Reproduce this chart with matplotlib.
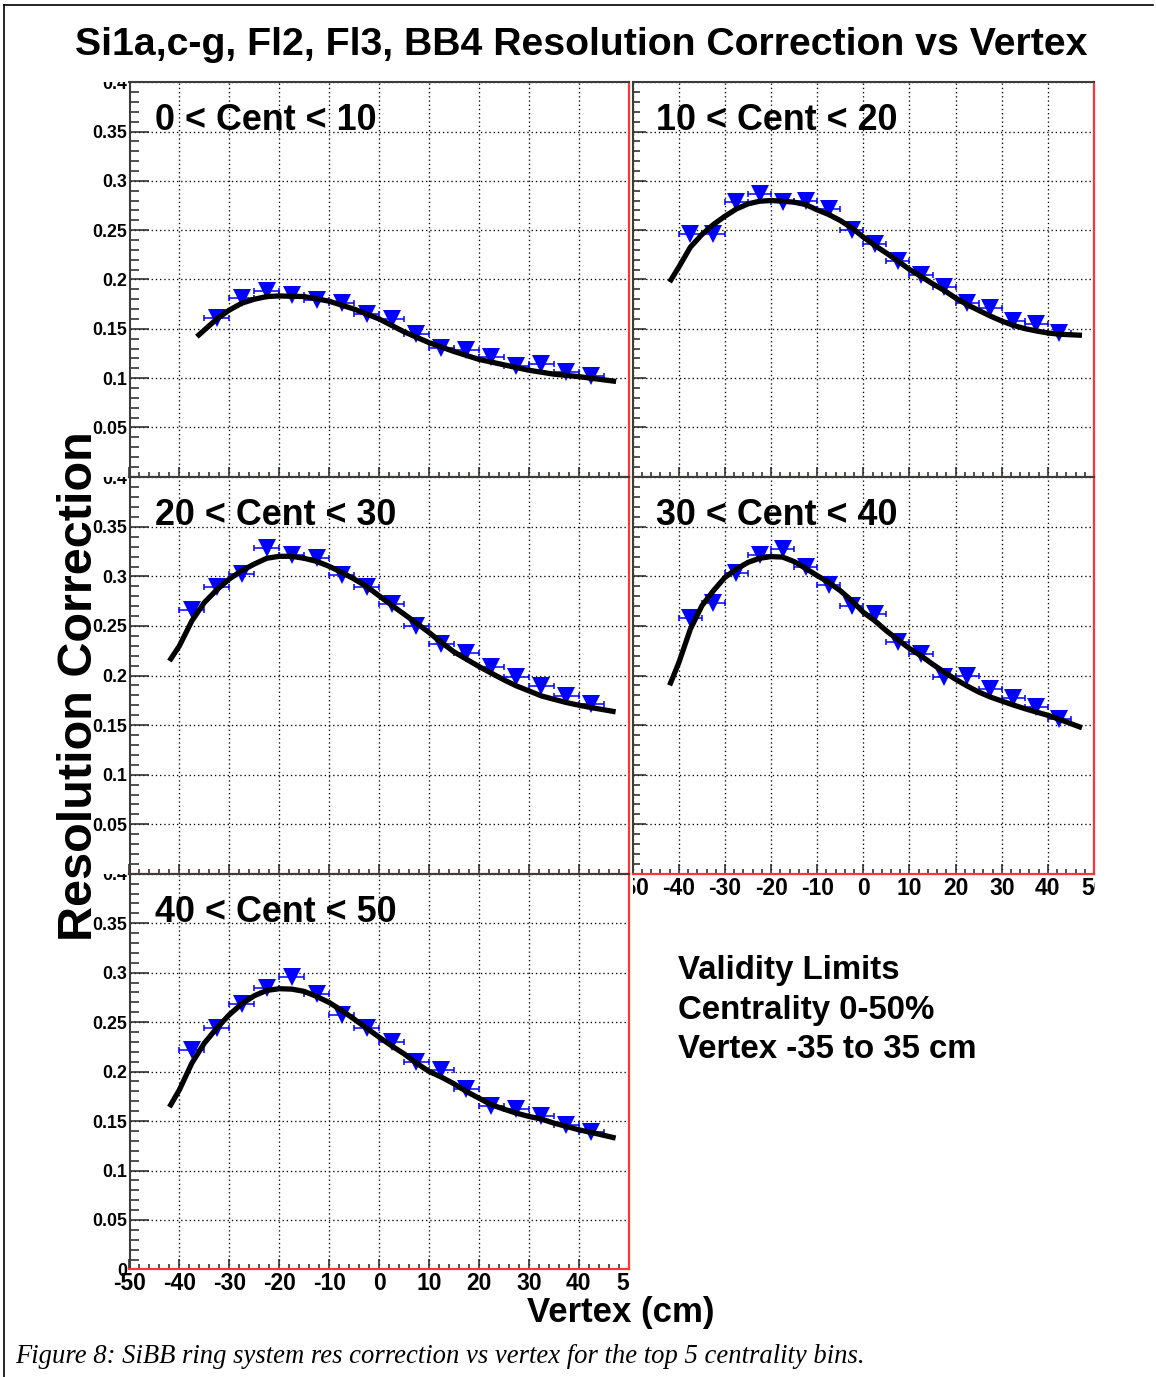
import matplotlib
matplotlib.use("Agg")
import matplotlib.pyplot as plt
from matplotlib.transforms import Bbox, TransformedBbox
from matplotlib.lines import Line2D
from matplotlib.ticker import FixedLocator, MultipleLocator

plt.rcParams['font.family'] = ['Liberation Sans', 'DejaVu Sans']
plt.rcParams['font.weight'] = 'bold'

# ---------------- data ----------------
title = "Si1a,c-g, Fl2, Fl3, BB4 Resolution Correction vs Vertex"
cent_labels = ["0 < Cent < 10", "10 < Cent < 20", "20 < Cent < 30",
               "30 < Cent < 40", "40 < Cent < 50"]

vertex_c0 = [-32.5, -27.5, -22.5, -17.5, -12.5, -7.5, -2.5, 2.5, 7.5,
             12.5, 17.5, 22.5, 27.5, 32.5, 37.5, 42.5]
vertex_bins = [-37.5, -32.5, -27.5, -22.5, -17.5, -12.5, -7.5, -2.5, 2.5,
               7.5, 12.5, 17.5, 22.5, 27.5, 32.5, 37.5, 42.5]
vertex_halfwidth = 2.5

corr_c0 = [0.161, 0.181, 0.188, 0.184, 0.179, 0.176, 0.165, 0.160, 0.145,
           0.131, 0.129, 0.121, 0.112, 0.114, 0.106, 0.102]
corr_c1 = [0.246, 0.246, 0.279, 0.287, 0.279, 0.280, 0.272, 0.250, 0.236,
           0.219, 0.205, 0.192, 0.176, 0.171, 0.158, 0.155, 0.146]
corr_c2 = [0.266, 0.289, 0.302, 0.329, 0.322, 0.319, 0.301, 0.289, 0.272,
           0.250, 0.232, 0.223, 0.209, 0.199, 0.189, 0.179, 0.171]
corr_c3 = [0.258, 0.273, 0.303, 0.322, 0.328, 0.310, 0.291, 0.270, 0.262,
           0.234, 0.222, 0.199, 0.200, 0.186, 0.177, 0.168, 0.156]
corr_c4 = [0.222, 0.244, 0.268, 0.285, 0.296, 0.278, 0.257, 0.244, 0.230,
           0.210, 0.202, 0.182, 0.165, 0.162, 0.155, 0.146, 0.139]

fit_x_c0 = [-36.5, -32.5, -30, -27.5, -25, -22.5, -20, -15, -10, -5, 0, 5,
            10, 15, 20, 25, 30, 35, 40, 47.5]
fit_y_c0 = [0.142, 0.160, 0.169, 0.176, 0.180, 0.1827, 0.1833, 0.1827, 0.178,
            0.170, 0.160, 0.147, 0.136, 0.127, 0.119, 0.1135, 0.108, 0.104,
            0.1015, 0.0966]
fit_x = [-42, -40, -37.5, -35, -32.5, -30, -27.5, -25, -22.5, -20, -17.5, -15,
         -12.5, -10, -7.5, -5, -2.5, 0, 2.5, 5, 7.5, 10, 12.5, 15, 17.5, 20,
         22.5, 25, 27.5, 30, 32.5, 35, 37.5, 40, 42.5, 47.4]
fit_y_c1 = [0.1974, 0.2126, 0.2328, 0.2456, 0.2558, 0.2642, 0.2716, 0.2767,
            0.2794, 0.2801, 0.2794, 0.2784, 0.2760, 0.2706, 0.2659, 0.2598,
            0.2524, 0.2430, 0.2345, 0.2268, 0.2187, 0.2102, 0.2031, 0.1957,
            0.1890, 0.1812, 0.1745, 0.1687, 0.1630, 0.1579, 0.1535, 0.1502,
            0.1478, 0.1458, 0.1445, 0.1434]
fit_y_c2 = [0.2147, 0.2300, 0.2552, 0.2737, 0.2865, 0.2974, 0.3058, 0.3125,
            0.3183, 0.3203, 0.3203, 0.3183, 0.3152, 0.3102, 0.3041, 0.2974,
            0.2899, 0.2805, 0.2711, 0.2620, 0.2529, 0.2435, 0.2334, 0.2239,
            0.2165, 0.2092, 0.2024, 0.1957, 0.1896, 0.1846, 0.1795, 0.1761,
            0.1728, 0.1701, 0.1677, 0.1634]
fit_y_c3 = [0.1901, 0.2130, 0.2468, 0.2704, 0.2856, 0.2990, 0.3075, 0.3142,
            0.3183, 0.3200, 0.3195, 0.3150, 0.3081, 0.3008, 0.2940, 0.2856,
            0.2755, 0.2638, 0.2552, 0.2451, 0.2361, 0.2273, 0.2199, 0.2115,
            0.2036, 0.1962, 0.1895, 0.1834, 0.1784, 0.1743, 0.1703, 0.1666,
            0.1632, 0.1599, 0.1558, 0.1473]
fit_y_c4 = [0.1641, 0.1816, 0.2086, 0.2288, 0.2440, 0.2575, 0.2686, 0.2767,
            0.2821, 0.2838, 0.2834, 0.2811, 0.2760, 0.2699, 0.2619, 0.2531,
            0.2440, 0.2349, 0.2261, 0.2180, 0.2086, 0.2002, 0.1944, 0.1877,
            0.1799, 0.1732, 0.1665, 0.1621, 0.1580, 0.1547, 0.1520, 0.1480,
            0.1446, 0.1412, 0.1385, 0.1328]

x_ticks = [-50, -40, -30, -20, -10, 0, 10, 20, 30, 40, 50]
x_tick_labels = ["-50", "-40", "-30", "-20", "-10", "0", "10", "20", "30", "40", "50"]
y_ticks = [0, 0.05, 0.1, 0.15, 0.2, 0.25, 0.3, 0.35, 0.4]
y_tick_labels = ["0", "0.05", "0.1", "0.15", "0.2", "0.25", "0.3", "0.35", "0.4"]

validity_lines = ["Validity Limits", "Centrality 0-50%", "Vertex -35 to 35 cm"]
caption = "Figure 8: SiBB ring system res correction vs vertex for the top 5 centrality bins."

# ---------------- layout ----------------
W, H = 1156, 1377
DPI = 100
fig = plt.figure(figsize=(W / DPI, H / DPI), dpi=DPI)
fig.patch.set_facecolor('white')


def fbox(x0, y0, x1, y1):
    return TransformedBbox(Bbox.from_extents(x0 / W, 1 - y1 / H, x1 / W, 1 - y0 / H),
                           fig.transFigure)


LCOL = (129.5, 628.6)
RCOL = (632.7, 1094.0)
ROWS = [(82.3, 476.7), (477.3, 873.8), (873.8, 1269.4)]

panels = [
    dict(col=LCOL, row=ROWS[0], x=vertex_c0, y=corr_c0, fx=fit_x_c0, fy=fit_y_c0,
         ylab=True, xlab=False, yclip_left=0),
    dict(col=RCOL, row=ROWS[0], x=vertex_bins, y=corr_c1, fx=fit_x, fy=fit_y_c1,
         ylab=False, xlab=False),
    dict(col=LCOL, row=ROWS[1], x=vertex_bins, y=corr_c2, fx=fit_x, fy=fit_y_c2,
         ylab=True, xlab=False, yclip_left=0),
    dict(col=RCOL, row=ROWS[1], x=vertex_bins, y=corr_c3, fx=fit_x, fy=fit_y_c3,
         ylab=False, xlab=True, xclip=(632.7, 1094.5)),
    dict(col=LCOL, row=ROWS[2], x=vertex_bins, y=corr_c4, fx=fit_x, fy=fit_y_c4,
         ylab=True, xlab=True, yclip_left=93, xclip=(93, 629.0), zero=True),
]

BLUE = '#0000ff'
RED = '#ff3535'
FRAME = '#3c3c3c'

for i, p in enumerate(panels):
    (x0, x1), (y0, y1) = p['col'], p['row']
    ax = fig.add_axes([x0 / W, 1 - y1 / H, (x1 - x0) / W, (y1 - y0) / H])
    ax.set_xlim(-50, 50)
    ax.set_ylim(0, 0.4)

    ax.errorbar(p['x'], p['y'], xerr=vertex_halfwidth, fmt='none', ecolor=BLUE,
                elinewidth=1.1, capsize=2.5, capthick=1.1, zorder=3)
    ax.plot(p['x'], p['y'], linestyle='none', marker='v', color=BLUE,
            markersize=12.5, markeredgewidth=0, zorder=4)
    ax.plot(p['fx'], p['fy'], color='black', linewidth=3.8,
            solid_joinstyle='round', solid_capstyle='butt', zorder=5)

    ax.xaxis.set_major_locator(FixedLocator(x_ticks))
    ax.xaxis.set_minor_locator(MultipleLocator(2))
    ax.yaxis.set_minor_locator(MultipleLocator(0.01))
    if p.get('zero'):
        ax.set_yticks(y_ticks, y_tick_labels)
    else:
        ax.set_yticks(y_ticks[1:], y_tick_labels[1:])
    ax.set_xticks(x_ticks, x_tick_labels)

    ax.grid(True, which='major', color='black', linestyle=(0, (1, 2.2)),
            linewidth=0.95)

    left = (i % 2 == 0)
    ymaj, ymin = (13.7, 6.8) if left else (9.4, 4.7)
    ax.tick_params(axis='both', which='both', direction='in', top=False,
                   right=False, color='#222222', width=1.1)
    ax.tick_params(axis='y', which='major', length=ymaj, pad=1.5,
                   labelsize=12.8, labelleft=p['ylab'])
    ax.tick_params(axis='y', which='minor', length=ymin)
    ax.tick_params(axis='x', which='major', length=7.2, pad=2.0,
                   labelsize=16.5, labelbottom=p['xlab'])
    ax.tick_params(axis='x', which='minor', length=3.6)

    for s in ('left', 'top'):
        ax.spines[s].set_color(FRAME)
        ax.spines[s].set_linewidth(1.5)
    for s in ('right', 'bottom'):
        ax.spines[s].set_color(RED)
        ax.spines[s].set_linewidth(1.6)

    if p['ylab']:
        bb = fbox(p['yclip_left'], y0, W, H)
        for lab in ax.get_yticklabels():
            lab.set_fontweight('bold')
            lab.set_clip_box(bb)
            lab.set_clip_on(True)
    if p['xlab']:
        cx0, cx1 = p['xclip']
        bb = fbox(cx0, 0, cx1, H)
        for lab in ax.get_xticklabels():
            lab.set_fontweight('bold')
            lab.set_clip_box(bb)
            lab.set_clip_on(True)

    ax.text(0.051, 0.879, cent_labels[i], transform=ax.transAxes,
            fontsize=25.8, fontweight='bold', ha='left', va='baseline', zorder=6)

# ---------------- figure texts ----------------
fig.text(581 / W, 1 - 55 / H, title, ha='center', va='baseline',
         fontsize=28.3, fontweight='bold')
fig.text(79 / W, 1 - 686 / H, "Resolution Correction", rotation=90,
         ha='center', va='center', fontsize=35, fontweight='bold')
fig.text(621 / W, 1 - 1322 / H, "Vertex (cm)", ha='center', va='baseline',
         fontsize=25, fontweight='bold')
for k, line in enumerate(validity_lines):
    fig.text(678 / W, 1 - (979 + 39.5 * k) / H, line, ha='left', va='baseline',
             fontsize=23.8, fontweight='bold')
fig.text(15 / W, 1 - 1363 / H, caption, ha='left', va='baseline',
         fontsize=19.2, fontweight='normal', fontstyle='italic',
         family=['Liberation Serif', 'DejaVu Serif'])

# page border (top and left)
fig.add_artist(Line2D([4 / W, 1153 / W], [1 - 5 / H, 1 - 5 / H],
                      transform=fig.transFigure, color='black', linewidth=1.2))
fig.add_artist(Line2D([4 / W, 4 / W], [1 - 5 / H, 0],
                      transform=fig.transFigure, color='black', linewidth=1.2))

fig.savefig("out.png", dpi=DPI, facecolor='white')
